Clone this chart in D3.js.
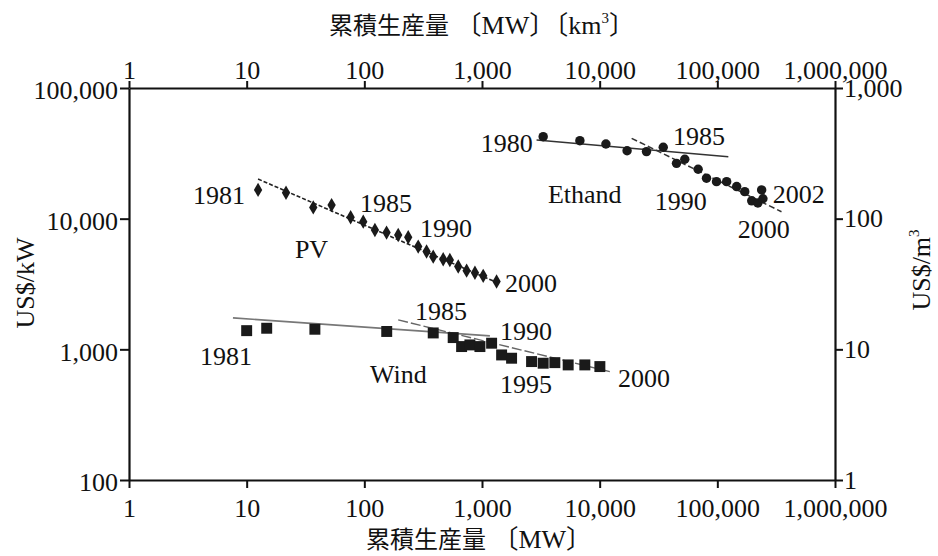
<!DOCTYPE html>
<html>
<head>
<meta charset="utf-8">
<script src="https://cdn.jsdelivr.net/npm/d3@7/dist/d3.min.js"></script>
<style>
  html, body { margin: 0; padding: 0; background: #fff; }
  svg { display: block; }
  text { font-family: "Liberation Serif", "Noto Sans CJK JP", serif; fill: #111; }
</style>
</head>
<body>
<svg id="chart" width="938" height="556"></svg>
<script>
// Axis ticks
const xTicks = [1, 10, 100, 1000, 10000, 100000, 1000000];
const yLeftTicks = [100, 1000, 10000, 100000];
const yRightTicks = [1, 10, 100, 1000];

// PV: cumulative production [MW] vs price [US$/kW]
const pvX = [12.5, 21.6, 36.8, 52.7, 76.5, 97.9, 123, 154.5, 194, 236, 287, 338, 385, 468, 533, 628, 740, 871, 1024, 1330];
const pvY = [16600, 15800, 12200, 12700, 10250, 9490, 8200, 7820, 7500, 7210, 6110, 5600, 5120, 4890, 4830, 4300, 4000, 3860, 3650, 3300];
const pvTrendX = [12.5, 1365];
const pvTrendY = [20100, 3220];

// Wind: cumulative production [MW] vs price [US$/kW]
const windX = [10, 14.8, 38, 155, 385, 569, 671, 789, 960, 1207, 1468, 1784, 2638, 3311, 4160, 5400, 7480, 10040];
const windY = [1390, 1450, 1425, 1370, 1335, 1230, 1050, 1081, 1050, 1114, 906, 855, 806, 783, 791, 760, 760, 738];
const windTrendAX = [7.65, 1167];
const windTrendAY = [1740, 1267];
const windTrendBX = [194, 12200];
const windTrendBY = [1679, 675];

// Ethanol: cumulative production [km3] vs price [US$/m3]
const ethX = [3311, 6790, 11300, 17100, 25000, 34700, 45000, 52900, 68700, 80900, 98400, 120000, 146000, 171000, 196000, 221000, 244000, 238000];
const ethY = [424, 395, 373, 331, 326, 352, 265, 285, 239, 204, 192, 192, 176, 161, 137, 132, 142, 166];
const ethTrendAX = [2910, 124000];
const ethTrendAY = [400, 298];
const ethTrendBX = [18700, 351000];
const ethTrendBY = [412, 113];

// Annotations (data coordinates)
const pvLabels = [
  { t: "1981", x: 9.7, y: 12960, anchor: "end" },
  { t: "1985", x: 91.8, y: 11250, anchor: "start" },
  { t: "1990", x: 297, y: 7240, anchor: "start" },
  { t: "PV", x: 25.7, y: 5000, anchor: "start" },
  { t: "2000", x: 1566, y: 2750, anchor: "start" }
];
const windLabels = [
  { t: "1981", x: 4.01, y: 760, anchor: "start" },
  { t: "Wind", x: 112, y: 553, anchor: "start" },
  { t: "1985", x: 269, y: 1679, anchor: "start" },
  { t: "1990", x: 1419, y: 1180, anchor: "start" },
  { t: "1995", x: 1419, y: 463, anchor: "start" },
  { t: "2000", x: 14300, y: 515, anchor: "start" }
];
const ethLabels = [
  { t: "1980", x: 2706, y: 324, anchor: "end" },
  { t: "1985", x: 41900, y: 366, anchor: "start" },
  { t: "Ethand", x: 3630, y: 132, anchor: "start" },
  { t: "1990", x: 29400, y: 117, anchor: "start" },
  { t: "2002", x: 296000, y: 132, anchor: "start" },
  { t: "2000", x: 149000, y: 71, anchor: "start" }
];

const svg = d3.select("#chart");
const plotLeft = 129, plotRight = 835, plotTop = 88, plotBottom = 480;

const x = d3.scaleLog().domain([1, 1e6]).range([plotLeft, plotRight]);
const yL = d3.scaleLog().domain([100, 1e5]).range([plotBottom, plotTop]);
const yR = d3.scaleLog().domain([1, 1000]).range([plotBottom, plotTop]);
const fmt = d3.format(",");

function styleAxis(g) {
  g.selectAll(".domain").attr("stroke", "#111").attr("stroke-width", 2.2);
  g.selectAll(".tick line").attr("stroke", "#111").attr("stroke-width", 2);
  g.selectAll(".tick text")
    .attr("font-family", "Liberation Serif, serif")
    .attr("font-size", 26)
    .attr("fill", "#111");
}

svg.append("g").attr("transform", `translate(0,${plotBottom})`)
  .call(d3.axisBottom(x).tickValues(xTicks).tickFormat(fmt).tickSize(8).tickPadding(11).tickSizeOuter(0))
  .call(styleAxis);
svg.append("g").attr("transform", `translate(0,${plotTop})`)
  .call(d3.axisTop(x).tickValues(xTicks).tickFormat(fmt).tickSize(7).tickPadding(2).tickSizeOuter(0))
  .call(styleAxis);
svg.append("g").attr("transform", `translate(${plotLeft},0)`)
  .call(d3.axisLeft(yL).tickValues(yLeftTicks).tickFormat(fmt).tickSize(9).tickPadding(2).tickSizeOuter(0))
  .call(styleAxis)
  .call(g => g.selectAll(".tick text").attr("dy", "0.42em"));
svg.append("g").attr("transform", `translate(${plotRight},0)`)
  .call(d3.axisRight(yR).tickValues(yRightTicks).tickFormat(fmt).tickSize(8).tickPadding(1).tickSizeOuter(0))
  .call(styleAxis);

// Axis titles
const topTitle = svg.append("text").attr("x", 482).attr("y", 34)
  .attr("text-anchor", "middle").attr("font-size", 26);
topTitle.append("tspan").attr("font-family", "Noto Sans CJK JP").attr("font-size", 24).text("累積生産量");
topTitle.append("tspan").text(" 〔MW〕〔km");
topTitle.append("tspan").attr("font-size", 15).attr("dy", -11).text("3");
topTitle.append("tspan").attr("dy", 11).text("〕");

const botTitle = svg.append("text").attr("x", 479).attr("y", 548)
  .attr("text-anchor", "middle").attr("font-size", 26);
botTitle.append("tspan").attr("font-family", "Noto Sans CJK JP").attr("font-size", 24).text("累積生産量");
botTitle.append("tspan").text(" 〔MW〕");

svg.append("text").attr("transform", "translate(34,283) rotate(-90)")
  .attr("text-anchor", "middle").attr("font-size", 26).text("US$/kW");

const rTitle = svg.append("text").attr("transform", "translate(930,270) rotate(-90)")
  .attr("text-anchor", "middle").attr("font-size", 26);
rTitle.append("tspan").text("US$/m");
rTitle.append("tspan").attr("font-size", 15).attr("dy", -11).text("3");

// Trend lines
function trend(xs, ys, yScale, opts) {
  const pts = xs.map((v, i) => [x(v), yScale(ys[i])]);
  svg.append("path").attr("d", d3.line()(pts))
    .attr("fill", "none")
    .attr("stroke", opts.color)
    .attr("stroke-width", opts.width)
    .attr("stroke-dasharray", opts.dash || null);
}
trend(pvTrendX, pvTrendY, yL, { color: "#222", width: 1.6, dash: "4,2" });
trend(windTrendAX, windTrendAY, yL, { color: "#777", width: 1.6 });
trend(windTrendBX, windTrendBY, yL, { color: "#666", width: 1.4, dash: "10,3" });
trend(ethTrendAX, ethTrendAY, yR, { color: "#333", width: 1.5 });
trend(ethTrendBX, ethTrendBY, yR, { color: "#333", width: 1.5, dash: "6,3" });

// Markers
function markers(xs, ys, yScale, type, size) {
  svg.append("g").selectAll("path").data(xs).join("path")
    .attr("transform", (d, i) => `translate(${x(d)},${yScale(ys[i])})`)
    .attr("d", d3.symbol().type(type).size(size))
    .attr("fill", "#1a1a1a");
}
markers(pvX, pvY, yL, d3.symbolDiamond, 60);
markers(windX, windY, yL, d3.symbolSquare, 120);
markers(ethX, ethY, yR, d3.symbolCircle, 70);

// Annotations
function labels(arr, yScale) {
  svg.append("g").selectAll("text").data(arr).join("text")
    .attr("x", d => x(d.x))
    .attr("y", d => yScale(d.y))
    .attr("text-anchor", d => d.anchor)
    .attr("font-size", 26)
    .text(d => d.t);
}
labels(pvLabels, yL);
labels(windLabels, yL);
labels(ethLabels, yR);
</script>
</body>
</html>
